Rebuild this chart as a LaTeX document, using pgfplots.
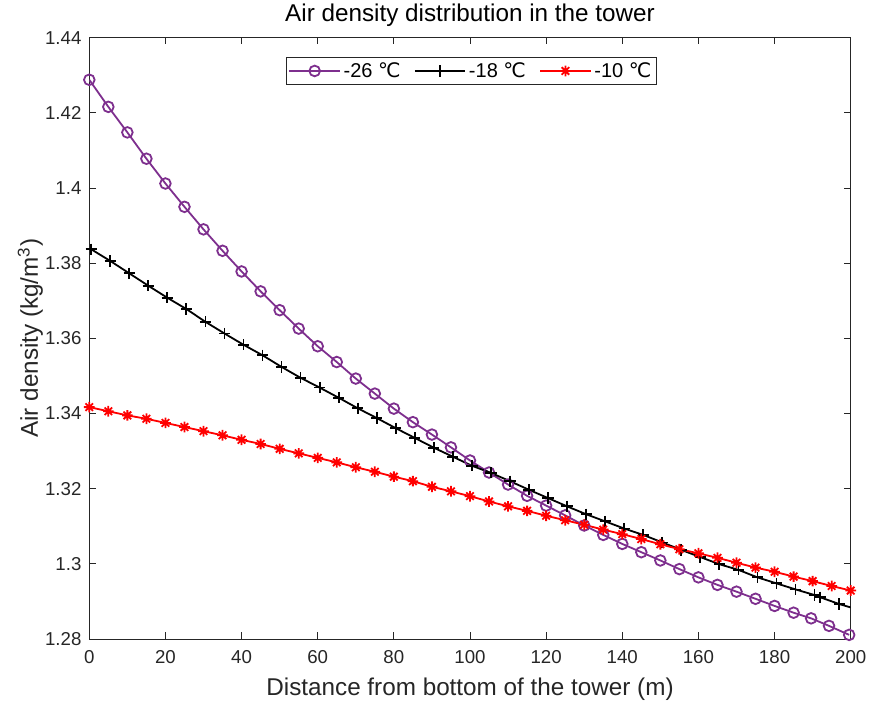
\documentclass[border=0pt]{standalone}
\usepackage{fontspec}
\setmainfont{Liberation Sans}
\newfontfamily\dejavu{DejaVu Sans}
\usepackage{pgfplots}
\pgfplotsset{compat=1.18}
\definecolor{mpurple}{RGB}{126,47,142}
\definecolor{axgray}{RGB}{38,38,38}
\pgfdeclareplotmark{ast8}{%
  \pgfpathmoveto{\pgfqpoint{-\pgfplotmarksize}{0pt}}\pgfpathlineto{\pgfqpoint{\pgfplotmarksize}{0pt}}%
  \pgfpathmoveto{\pgfqpoint{0pt}{-\pgfplotmarksize}}\pgfpathlineto{\pgfqpoint{0pt}{\pgfplotmarksize}}%
  \pgfpathmoveto{\pgfqpoint{-0.707\pgfplotmarksize}{-0.707\pgfplotmarksize}}\pgfpathlineto{\pgfqpoint{0.707\pgfplotmarksize}{0.707\pgfplotmarksize}}%
  \pgfpathmoveto{\pgfqpoint{-0.707\pgfplotmarksize}{0.707\pgfplotmarksize}}\pgfpathlineto{\pgfqpoint{0.707\pgfplotmarksize}{-0.707\pgfplotmarksize}}%
  \pgfusepathqstroke}
\newcommand{\degC}{{\dejavu ℃}}
\begin{document}
\begin{tikzpicture}
\path[use as bounding box] (-66.975pt,-46.5pt) rectangle (585.525pt,479.25pt);
\begin{axis}[
  at={(0pt,0pt)}, anchor=south west,
  scale only axis, width=571.05pt, height=450.975pt,
  xmin=0, xmax=200, ymin=1.28, ymax=1.44,
  xtick={0,20,40,60,80,100,120,140,160,180,200},
  ytick={1.28,1.30,1.32,1.34,1.36,1.38,1.40,1.42,1.44},
  tick align=inside, major tick length=5pt,
  axis line style={axgray, line width=0.6pt},
  every tick/.style={axgray, line width=0.6pt},
  tick label style={font=\fontsize{14}{16}\selectfont, text=axgray},
  /pgf/number format/assume math mode=true,
  yticklabel style={/pgf/number format/fixed, /pgf/number format/precision=2, xshift=-2.4pt},
  xticklabel style={yshift=-5pt},
  title={Air density distribution in the tower},
  title style={at={(axis description cs:0.5,1)}, anchor=base, yshift=6.5pt, font=\fontsize{18.2}{22}\selectfont},
  xlabel={Distance from bottom of the tower (m)},
  xlabel style={at={(axis description cs:0.5,0)}, anchor=base, yshift=-42pt, font=\fontsize{18.2}{22}\selectfont, text=axgray},
  ylabel={Air density (kg/m\textsuperscript{3})},
  ylabel style={at={(axis description cs:-0.0674,0.5)}, anchor=base, font=\fontsize{18.2}{22}\selectfont, text=axgray},
  legend style={at={(axis description cs:0.5016,0.968)}, anchor=north, legend columns=3, draw=axgray,
    font=\fontsize{15}{17}\selectfont, inner sep=2pt,
    /tikz/every even column/.append style={column sep=8pt}},
  legend image code/.code={\draw[mark repeat=2,mark phase=2] plot coordinates {(0pt,0pt) (19pt,0pt) (38pt,0pt)};},
]
\addplot[color=mpurple, line width=1.35pt, mark=o, mark size=4pt, mark options={solid}] coordinates {
(0,1.4288) (5,1.4216) (10,1.4148) (15,1.4078) (20,1.4012) (25,1.3950) (30,1.3890) (35,1.3833)
(40,1.3778) (45,1.3725) (50,1.3675) (55,1.3626) (60,1.3579) (65,1.3537) (70,1.3493) (75,1.3453)
(80,1.3413) (85,1.3377) (90,1.3344) (95,1.3310) (100,1.3275) (105,1.3243) (110,1.3211) (115,1.3181)
(120,1.3155) (125,1.3129) (130,1.3102) (135,1.3077) (140,1.3053) (145,1.3031) (150,1.3009) (155,1.2986)
(160,1.2964) (165,1.2944) (170,1.2926) (175,1.2907) (180,1.2888) (185,1.2870) (189.6,1.2855) (194.3,1.2835) (199.6,1.2811)
};
\addlegendentry{-26 \degC}
\addplot[color=black, line width=1.35pt, mark=+, mark size=4.2pt, mark options={solid}] coordinates {
(0.5,1.3837) (5.5,1.3806) (10.5,1.3773) (15.5,1.3740) (20.5,1.3708) (25.5,1.3678) (30.5,1.3644) (35.5,1.3613)
(40.5,1.3583) (45.5,1.3555) (50.5,1.3524) (55.5,1.3495) (60.5,1.3469) (65.5,1.3442) (70.5,1.3414) (75.5,1.3388)
(80.5,1.3361) (85.5,1.3335) (90.5,1.3309) (95.5,1.3285) (100.5,1.3261) (105.5,1.3242) (110.5,1.3220) (115.5,1.3197)
(120.5,1.3175) (125.5,1.3153) (130.5,1.3132) (135.5,1.3113) (140.5,1.3094) (145.5,1.3077) (150.5,1.3057) (155.5,1.3037)
(160.5,1.3018) (165.5,1.2999) (170.5,1.2984) (175.5,1.2964) (180.5,1.2948) (185.5,1.2932) (190.5,1.2917) (192,1.2911) (197,1.2893)
};
\addlegendentry{-18 \degC}
\addplot[color=black, line width=1.35pt, no marks, forget plot] coordinates {(197,1.2893) (200,1.2884)};
\addplot[color=red, line width=1.35pt, mark=ast8, mark size=4pt, mark options={solid}] coordinates {
(0,1.3417) (5,1.3406) (10,1.3395) (15,1.3386) (20,1.3375) (25,1.3364) (30,1.3353) (35,1.3342)
(40,1.3330) (45,1.3319) (50,1.3306) (55,1.3294) (60,1.3282) (65,1.3270) (70,1.3257) (75,1.3245)
(80,1.3232) (85,1.3220) (90,1.3205) (95,1.3193) (100,1.3180) (105,1.3166) (110,1.3153) (115,1.3141)
(120,1.3128) (125,1.3116) (130,1.3104) (135,1.3091) (140,1.3079) (145,1.3066) (150,1.3052) (155,1.3039)
(160,1.3028) (165,1.3016) (170,1.3003) (175,1.2990) (180,1.2979) (185,1.2966) (190,1.2954) (195,1.2941) (200,1.2929)
};
\addlegendentry{-10 \degC}
\end{axis}
\end{tikzpicture}
\end{document}
